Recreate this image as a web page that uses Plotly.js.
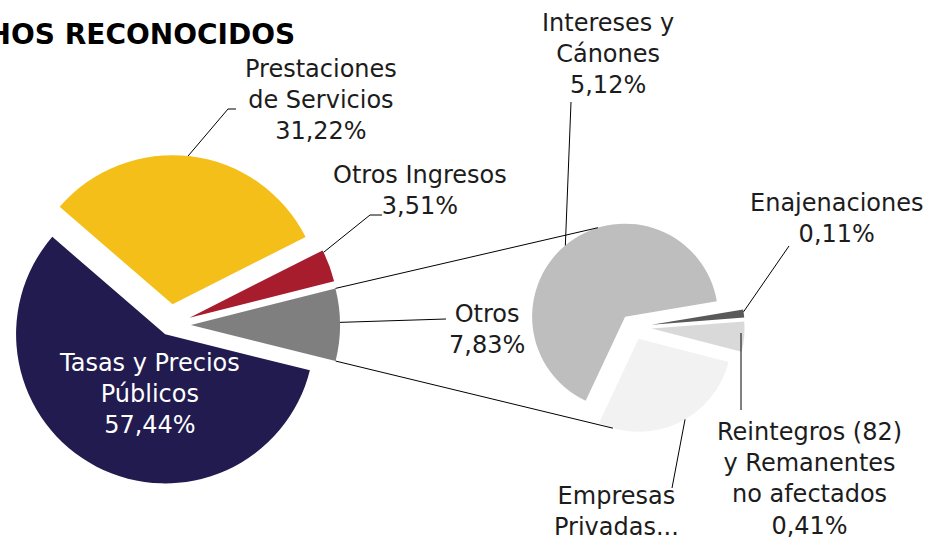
<!DOCTYPE html>
<html><head><meta charset="utf-8">
<script src="https://cdn.plot.ly/plotly-3.0.1.min.js"></script>
<style>html,body{margin:0;padding:0;background:#fff;overflow:hidden}#chart{width:940px;height:543px}</style>
</head><body><div id="chart"></div>
<script>
// ---- data ----
const mainLabels = ['Otros', 'Otros Ingresos', 'Prestaciones de Servicios', 'Tasas y Precios Públicos'];
const mainValues = [7.83, 3.51, 31.22, 57.44];
const mainColors = ['#7f7f7f', '#a71d2e', '#f5bf1a', '#211b4f'];
const subLabels = ['Intereses y Cánones', 'Empresas Privadas...', 'Reintegros (82) y Remanentes no afectados', 'Enajenaciones'];
const subValues = [5.12, 2.19, 0.41, 0.11];
const subColors = ['#bebebe', '#f2f2f2', '#d9d9d9', '#595959'];
const titleText = 'DERECHOS RECONOCIDOS';

// ---- layout geometry (pixels) ----
const W = 940, H = 543;
const X = v => v / W, Y = v => 1 - v / H;
const mainPull = [0.14, 0.14, 0.14, 0.07];
const subPull = [0.14, 0.14, 0.2, 0.2];
const mainBox = {cx: 170, cy: 325, half: 170};
const subBox = {cx: 633, cy: 327, half: 111.6};
const mainStart = -14, subStart = 9.5;   // math angle (deg) where first slice begins

function dom(b) {
  return {x: [X(b.cx - b.half), X(b.cx + b.half)], y: [Y(b.cy + b.half), Y(b.cy - b.half)]};
}
function fmt(v) { return v.toFixed(2).replace('.', ',') + '%'; }
// plotly (counterclockwise): first slice spans clockwise angles [rot, rot+size] from 12 o'clock
function rotFor(values, start) {
  const tot = values.reduce((a, b) => a + b, 0);
  return 90 - start - values[0] / tot * 360;
}
function slices(values, pulls, box, start) {
  const r = box.half / (1 + Math.max(...pulls));
  const tot = values.reduce((a, b) => a + b, 0);
  let a = start; const out = [];
  values.forEach((v, i) => {
    const a0 = a, a1 = a + v / tot * 360, m = (a0 + a1) / 2 * Math.PI / 180;
    out.push({a0, a1, cx: box.cx + pulls[i] * r * Math.cos(m), cy: box.cy - pulls[i] * r * Math.sin(m), r});
    a = a1;
  });
  return out;
}
function pt(s, deg) {
  const t = deg * Math.PI / 180;
  return [s.cx + s.r * Math.cos(t), s.cy - s.r * Math.sin(t)];
}
const ms = slices(mainValues, mainPull, mainBox, mainStart);
const ss = slices(subValues, subPull, subBox, subStart);

const traces = [
  {type: 'pie', labels: mainLabels, values: mainValues, sort: false, direction: 'counterclockwise',
   rotation: rotFor(mainValues, mainStart), pull: mainPull, marker: {colors: mainColors, line: {width: 0}},
   textinfo: 'none', hoverinfo: 'label+percent', showlegend: false, domain: dom(mainBox)},
  {type: 'pie', labels: subLabels, values: subValues, sort: false, direction: 'counterclockwise',
   rotation: rotFor(subValues, subStart), pull: subPull, marker: {colors: subColors, line: {width: 0}},
   textinfo: 'none', hoverinfo: 'label+value', showlegend: false, domain: dom(subBox)}
];

const shapes = [];
function seg(pts) {
  for (let i = 0; i < pts.length - 1; i++) {
    shapes.push({type: 'line', xref: 'paper', yref: 'paper',
      x0: X(pts[i][0]), y0: Y(pts[i][1]), x1: X(pts[i + 1][0]), y1: Y(pts[i + 1][1]),
      line: {color: '#000', width: 1}});
  }
}
// connectors between "Otros" slice and the secondary pie
seg([pt(ms[0], ms[0].a1), pt(ss[0], 107)]);
seg([pt(ms[0], ms[0].a0), pt(ss[1], 254)]);
// leader lines
seg([pt(ms[2], 84), [228, 109], [236, 109]]);
seg([pt(ms[1], 26), [370, 215], [382, 215]]);
seg([pt(ms[0], 1), [446, 319]]);
seg([pt(ss[0], 130), [571, 102]]);
seg([pt(ss[3], 8), [789, 246]]);
seg([[741, 333], [741, 410]]);
seg([pt(ss[1], 300), [672, 488]]);

const F = 'DejaVu Sans, sans-serif';
function ann(text, x, y, color) {
  return {text, xref: 'paper', yref: 'paper', x: X(x), y: Y(y), xanchor: 'center', yanchor: 'middle',
    showarrow: false, align: 'center', font: {family: F, size: 24, color: color || '#1c1c1c'}};
}
const annotations = [
  ann('Prestaciones<br>de Servicios<br>' + fmt(mainValues[2]), 321, 100),
  ann('Otros Ingresos<br>' + fmt(mainValues[1]), 420, 190),
  ann('Otros<br>' + fmt(mainValues[0]), 487, 329),
  ann('Tasas y Precios<br>Públicos<br>' + fmt(mainValues[3]), 149, 394, '#ffffff'),
  ann('Intereses y<br>Cánones<br>' + fmt(subValues[0]), 608, 54),
  ann('Enajenaciones<br>' + fmt(subValues[3]), 836, 218),
  ann('Reintegros (82)<br>y Remanentes<br>no afectados<br>' + fmt(subValues[2]), 809, 479),
  ann('Empresas<br>Privadas...', 616, 511),
  {text: '<b>' + titleText + '</b>', xref: 'paper', yref: 'paper', x: X(297), y: Y(34),
   xanchor: 'right', yanchor: 'middle', showarrow: false, font: {family: F, size: 28, color: '#000'}}
];

Plotly.newPlot('chart', traces, {
  width: W, height: H, margin: {l: 0, r: 0, t: 0, b: 0},
  paper_bgcolor: '#fff', plot_bgcolor: '#fff', showlegend: false,
  shapes, annotations
}, {displayModeBar: false, staticPlot: true});
</script></body></html>
